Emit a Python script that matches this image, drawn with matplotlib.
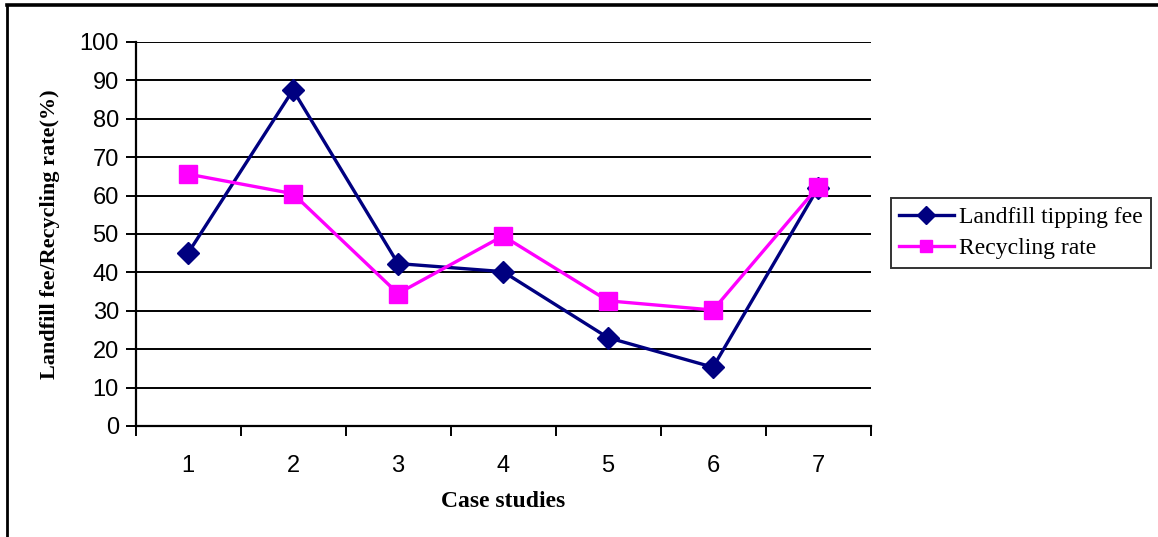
import matplotlib
matplotlib.use("Agg")
import matplotlib.pyplot as plt
from matplotlib.lines import Line2D

cases = [1, 2, 3, 4, 5, 6, 7]
landfill_fee = [45, 87.5, 42.3, 40.2, 23, 15.3, 62]
recycling_rate = [65.6, 60.5, 34.5, 49.5, 32.6, 30.2, 62.3]
series_names = ["Landfill tipping fee", "Recycling rate"]

W, H = 1158, 537
fig = plt.figure(figsize=(W / 100, H / 100), dpi=100)
ax = fig.add_axes([135.5 / W, 111 / H, 735 / W, 384 / H])

ax.plot(cases, landfill_fee, color="#000080", lw=2.4, marker="D", ms=11,
        label=series_names[0], zorder=3)
ax.plot(cases, recycling_rate, color="#FF00FF", lw=2.4, marker="s", ms=13,
        label=series_names[1], zorder=3)

ax.set_xlim(0.5, 7.5)
ax.set_ylim(0, 100)
ax.set_yticks(range(0, 101, 10))
ax.yaxis.grid(True, color="black", lw=1.4)
ax.set_axisbelow(True)

# category labels in the middle, tick marks on the boundaries
ax.set_xticks([x + 0.5 for x in range(0, 8)])
ax.set_xticklabels([])
ax.set_xticks(cases, minor=True)
ax.set_xticklabels([str(c) for c in cases], minor=True)
ax.tick_params(axis="x", which="major", direction="out", length=7, width=1.4, color="black")
ax.tick_params(axis="x", which="minor", length=0, pad=21)
ax.tick_params(axis="y", direction="out", length=7, width=1.4, pad=5)
for lab in ax.get_xticklabels(minor=True) + ax.get_yticklabels():
    lab.set_fontfamily("Liberation Sans")
    lab.set_fontsize(17)

for side in ["top", "right"]:
    ax.spines[side].set_visible(False)
for side in ["left", "bottom"]:
    ax.spines[side].set_color("black")
    ax.spines[side].set_linewidth(1.6)

ax.set_xlabel("Case studies", fontfamily="Liberation Serif", fontweight="bold",
              fontsize=17, labelpad=10)
ax.set_ylabel("Landfill fee/Recycling rate(%)", fontfamily="Liberation Serif",
              fontweight="bold", fontsize=16, labelpad=14)

leg = ax.legend(loc="center left", bbox_to_anchor=(891 / W, 1 - 233 / H),
                bbox_transform=fig.transFigure, frameon=True, fancybox=False,
                prop={"family": "Liberation Serif", "size": 17}, handlelength=2.3,
                handletextpad=0.25, borderpad=0.35, labelspacing=0.4,
                borderaxespad=0)
leg.get_frame().set_edgecolor("black")
leg.get_frame().set_linewidth(1.4)
for h in leg.legend_handles:
    h.set_markersize(9)

# outer chart border (left and top edges)
bx, by = 7 / W, 1 - 5 / H
fig.add_artist(Line2D([bx, bx], [0, by], color="black", lw=2, transform=fig.transFigure))
fig.add_artist(Line2D([bx, 1], [by, by], color="black", lw=2.6, transform=fig.transFigure))

fig.savefig("out.png", dpi=100)
